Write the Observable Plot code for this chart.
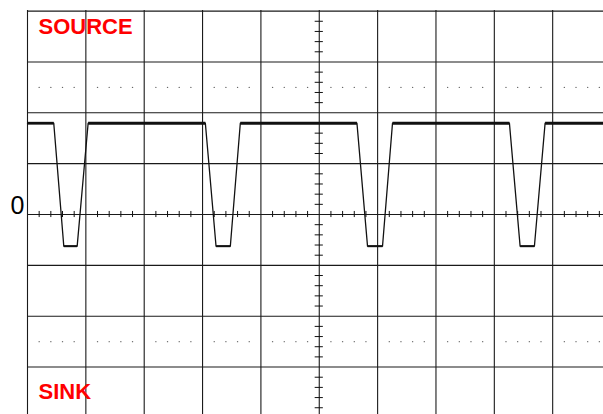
<!DOCTYPE html>
<html>
<head>
<meta charset="utf-8">
<script src="https://cdn.jsdelivr.net/npm/d3@7"></script>
<script src="https://cdn.jsdelivr.net/npm/@observablehq/plot@0.6"></script>
<style>
  html, body { margin: 0; padding: 0; background: white; }
  #chart svg { display: block; }
</style>
</head>
<body>
<div id="chart"></div>
<script>
// Oscilloscope screen: values in divisions
const gridX = [-5, -4, -3, -2, -1, 0, 1, 2, 3, 4, 5];
const gridY = [-4, -3, -2, -1, 0, 1, 2, 3, 4];
const dotRows = [-2.5, 2.5];
const minorX = d3.range(-24, 25).filter(i => i % 5 !== 0).map(i => i / 5);
const minorY = d3.range(-19, 20).filter(i => i % 5 !== 0).map(i => i / 5);

// Trace corner points (time in divisions, level in divisions)
const traceT = [-5, -4.550, -4.378, -4.149, -3.961, -1.952, -1.769, -1.524, -1.353,
                0.646, 0.827, 1.084, 1.255, 3.259, 3.442, 3.687, 3.870, 4.871];
const traceV = [1.795, 1.795, -0.623, -0.623, 1.795, 1.795, -0.623, -0.623, 1.795,
                1.795, -0.623, -0.623, 1.795, 1.795, -0.623, -0.623, 1.795, 1.795];

const labels = ["SOURCE", "SINK"];
const zeroLabel = ["0"];

const trace = traceT.map((t, i) => ({t, v: traceV[i]}));
const plateaus = trace.slice(1).map((d, i) => ({a: trace[i], b: d}))
  .filter(s => s.a.v === s.b.v);
const dots = dotRows.flatMap(y => minorX.map(x => ({x, y})));

const chart = Plot.plot({
  width: 603,
  height: 414,
  marginLeft: 27,
  marginTop: 10,
  marginRight: 0,
  marginBottom: 0,
  x: {domain: [-5, 4.871], axis: null},
  y: {domain: [-3.933, 4.012], axis: null},
  style: {background: "white", fontFamily: "'Liberation Sans', Arial, sans-serif", overflow: "hidden"},
  marks: [
    Plot.ruleX(gridX, {x: d => d, stroke: "#1a1a1a", strokeWidth: 1.1}),
    Plot.ruleY(gridY, {y: d => d, stroke: "#1a1a1a", strokeWidth: 1.1}),
    Plot.dot(dots, {x: "x", y: "y", r: 0.7, fill: "#666", stroke: null}),
    Plot.ruleX(minorX, {x: d => d, y1: -0.06, y2: 0.06, stroke: "#111", strokeWidth: 1}),
    Plot.ruleY(minorY, {y: d => d, x1: -0.07, x2: 0.07, stroke: "#111", strokeWidth: 1}),
    Plot.line(trace, {x: "t", y: "v", stroke: "#111", strokeWidth: 1.3}),
    Plot.link(plateaus, {x1: d => d.a.t, y1: d => d.a.v, x2: d => d.b.t, y2: d => d.b.v,
      stroke: "#111", strokeWidth: d => d.a.v > 0 ? 2.8 : 2}),
    Plot.text([labels[0]], {frameAnchor: "top-left", text: d => d, dx: 11, dy: 8,
      fill: "#ff0000", fontWeight: "bold", fontSize: 22}),
    Plot.text([labels[1]], {frameAnchor: "bottom-left", text: d => d, dx: 11, dy: -16, lineAnchor: "bottom",
      fill: "#ff0000", fontWeight: "bold", fontSize: 22}),
    Plot.text(zeroLabel, {x: -5, y: 0, text: d => d, dx: -3, dy: -1, textAnchor: "end", lineAnchor: "bottom",
      fontSize: 25, fill: "#000"})
  ]
});
document.getElementById("chart").appendChild(chart);
</script>
</body>
</html>
